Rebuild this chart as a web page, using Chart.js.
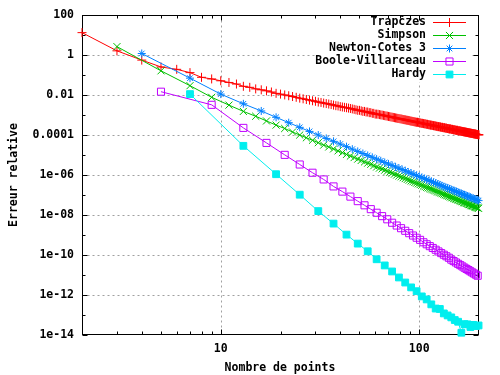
<!DOCTYPE html>
<html>
<head>
<meta charset="utf-8">
<script src="https://cdn.jsdelivr.net/npm/chart.js@4.4.1/dist/chart.umd.min.js"></script>
<style>
  body { margin: 0; background: #fff; }
  canvas { display: block; }
</style>
</head>
<body>
<canvas id="chart" width="500" height="375"></canvas>
<script>
// number of points used for each rule
const trapX = [
  2, 3, 4, 5, 6, 7, 8, 9, 10, 11, 12, 13, 14, 15, 16, 17, 18, 19, 20, 21,
  22, 23, 24, 25, 26, 27, 28, 29, 30, 31, 32, 33, 34, 35, 36, 37, 38, 39, 40, 41,
  42, 43, 44, 45, 46, 47, 48, 49, 50, 51, 52, 53, 54, 55, 56, 57, 58, 59, 60, 61,
  62, 63, 64, 65, 66, 67, 68, 69, 70, 71, 72, 73, 74, 75, 76, 77, 78, 79, 80, 81,
  82, 83, 84, 85, 86, 87, 88, 89, 90, 91, 92, 93, 94, 95, 96, 97, 98, 99, 100, 101,
  102, 103, 104, 105, 106, 107, 108, 109, 110, 111, 112, 113, 114, 115, 116, 117, 118, 119, 120, 121,
  122, 123, 124, 125, 126, 127, 128, 129, 130, 131, 132, 133, 134, 135, 136, 137, 138, 139, 140, 141,
  142, 143, 144, 145, 146, 147, 148, 149, 150, 151, 152, 153, 154, 155, 156, 157, 158, 159, 160, 161,
  162, 163, 164, 165, 166, 167, 168, 169, 170, 171, 172, 173, 174, 175, 176, 177, 178, 179, 180, 181,
  182, 183, 184, 185, 186, 187, 188, 189, 190, 191, 192, 193, 194, 195, 196, 197, 198, 199, 200
];
const trapY = [
  13, 1.6, 0.55, 0.25, 0.19, 0.13, 0.076, 0.063, 0.051, 0.042, 0.035, 0.027, 0.024, 0.020, 0.018, 0.016, 0.014, 0.012, 0.011, 0.010,
  0.0091, 0.0083, 0.0076, 0.0069, 0.0064, 0.0059, 0.0055, 0.0051, 0.0048, 0.0044, 0.0042, 0.0039, 0.0037, 0.0035, 0.0033, 0.0031, 0.0029, 0.0028, 0.0026, 0.0025,
  0.0024, 0.0023, 0.0022, 0.0021, 0.0020, 0.0019, 0.0018, 0.0017, 0.0017, 0.0016, 0.0015, 0.0015, 0.0014, 0.0014, 0.0013, 0.0013, 0.0012, 0.0012, 0.0011, 0.0011,
  1.08e-3, 1.04e-3, 1.01e-3, 9.8e-4, 9.5e-4, 9.2e-4, 8.9e-4, 8.7e-4, 8.4e-4, 8.2e-4, 7.9e-4, 7.7e-4, 7.5e-4, 7.3e-4, 7.1e-4, 6.9e-4, 6.7e-4, 6.6e-4, 6.4e-4, 6.3e-4,
  6.1e-4, 5.9e-4, 5.8e-4, 5.7e-4, 5.5e-4, 5.4e-4, 5.3e-4, 5.2e-4, 5.0e-4, 4.9e-4, 4.8e-4, 4.7e-4, 4.6e-4, 4.5e-4, 4.4e-4, 4.3e-4, 4.3e-4, 4.2e-4, 4.1e-4, 4.0e-4,
  3.9e-4, 3.8e-4, 3.8e-4, 3.7e-4, 3.6e-4, 3.6e-4, 3.5e-4, 3.4e-4, 3.4e-4, 3.3e-4, 3.2e-4, 3.2e-4, 3.1e-4, 3.1e-4, 3.0e-4, 3.0e-4, 2.9e-4, 2.9e-4, 2.8e-4, 2.8e-4,
  2.7e-4, 2.7e-4, 2.6e-4, 2.6e-4, 2.6e-4, 2.5e-4, 2.5e-4, 2.4e-4, 2.4e-4, 2.4e-4, 2.3e-4, 2.3e-4, 2.3e-4, 2.2e-4, 2.2e-4, 2.2e-4, 2.1e-4, 2.1e-4, 2.1e-4, 2.0e-4,
  2.0e-4, 2.0e-4, 2.0e-4, 1.9e-4, 1.9e-4, 1.9e-4, 1.85e-4, 1.8e-4, 1.8e-4, 1.8e-4, 1.75e-4, 1.7e-4, 1.7e-4, 1.7e-4, 1.7e-4, 1.6e-4, 1.6e-4, 1.6e-4, 1.6e-4, 1.56e-4,
  1.54e-4, 1.52e-4, 1.50e-4, 1.49e-4, 1.47e-4, 1.45e-4, 1.43e-4, 1.42e-4, 1.40e-4, 1.38e-4, 1.37e-4, 1.35e-4, 1.34e-4, 1.32e-4, 1.31e-4, 1.29e-4, 1.28e-4, 1.26e-4, 1.25e-4, 1.23e-4,
  1.22e-4, 1.21e-4, 1.19e-4, 1.18e-4, 1.17e-4, 1.16e-4, 1.14e-4, 1.13e-4, 1.12e-4, 1.11e-4, 1.10e-4, 1.09e-4, 1.07e-4, 1.06e-4, 1.05e-4, 1.04e-4, 1.03e-4, 1.02e-4, 1.01e-4
];

const simpsonX = [
  3, 5, 7, 9, 11, 13, 15, 17, 19, 21, 23, 25, 27, 29, 31, 33, 35, 37, 39, 41,
  43, 45, 47, 49, 51, 53, 55, 57, 59, 61, 63, 65, 67, 69, 71, 73, 75, 77, 79, 81,
  83, 85, 87, 89, 91, 93, 95, 97, 99, 101, 103, 105, 107, 109, 111, 113, 115, 117, 119, 121,
  123, 125, 127, 129, 131, 133, 135, 137, 139, 141, 143, 145, 147, 149, 151, 153, 155, 157, 159, 161,
  163, 165, 167, 169, 171, 173, 175, 177, 179, 181, 183, 185, 187, 189, 191, 193, 195, 197, 199
];
const simpsonY = [
  2.6, 0.16, 0.029, 0.0076, 0.0031, 0.0015, 8.6e-4, 5.0e-4, 3.1e-4, 2.1e-4, 1.4e-4, 9.9e-5, 7.2e-5, 5.4e-5, 4.1e-5, 3.1e-5, 2.5e-5, 2.0e-5, 1.6e-5, 1.3e-5,
  1.06e-5, 8.8e-6, 7.4e-6, 6.2e-6, 5.3e-6, 4.5e-6, 3.9e-6, 3.4e-6, 2.9e-6, 2.5e-6, 2.2e-6, 2.0e-6, 1.74e-6, 1.54e-6, 1.37e-6, 1.23e-6, 1.10e-6, 9.9e-7, 8.9e-7, 8.1e-7,
  7.3e-7, 6.6e-7, 6.0e-7, 5.5e-7, 5.0e-7, 4.6e-7, 4.2e-7, 3.9e-7, 3.6e-7, 3.3e-7, 3.05e-7, 2.8e-7, 2.6e-7, 2.4e-7, 2.25e-7, 2.1e-7, 1.95e-7, 1.82e-7, 1.70e-7, 1.59e-7,
  1.49e-7, 1.40e-7, 1.31e-7, 1.23e-7, 1.16e-7, 1.09e-7, 1.02e-7, 9.6e-8, 9.1e-8, 8.6e-8, 8.1e-8, 7.7e-8, 7.3e-8, 6.9e-8, 6.5e-8, 6.2e-8, 5.9e-8, 5.6e-8, 5.3e-8, 5.0e-8,
  4.8e-8, 4.6e-8, 4.3e-8, 4.1e-8, 3.95e-8, 3.8e-8, 3.6e-8, 3.4e-8, 3.3e-8, 3.1e-8, 3.0e-8, 2.9e-8, 2.76e-8, 2.64e-8, 2.53e-8, 2.43e-8, 2.33e-8, 2.24e-8, 2.15e-8
];

const newtonX = [
  4, 7, 10, 13, 16, 19, 22, 25, 28, 31, 34, 37, 40, 43, 46, 49, 52, 55, 58, 61,
  64, 67, 70, 73, 76, 79, 82, 85, 88, 91, 94, 97, 100, 103, 106, 109, 112, 115, 118, 121,
  124, 127, 130, 133, 136, 139, 142, 145, 148, 151, 154, 157, 160, 163, 166, 169, 172, 175, 178, 181,
  184, 187, 190, 193, 196, 199
];
const newtonY = [
  1.18, 0.069, 0.011, 0.0036, 1.58e-3, 7.6e-4, 4.1e-4, 2.4e-4, 1.5e-4, 9.9e-5, 6.7e-5, 4.8e-5, 3.5e-5, 2.6e-5, 1.95e-5, 1.5e-5, 1.18e-5, 9.4e-6, 7.6e-6, 6.2e-6,
  5.1e-6, 4.2e-6, 3.5e-6, 3.0e-6, 2.5e-6, 2.16e-6, 1.86e-6, 1.61e-6, 1.40e-6, 1.22e-6, 1.07e-6, 9.4e-7, 8.3e-7, 7.4e-7, 6.6e-7, 5.9e-7, 5.3e-7, 4.7e-7, 4.3e-7, 3.9e-7,
  3.5e-7, 3.2e-7, 2.9e-7, 2.6e-7, 2.4e-7, 2.2e-7, 2.0e-7, 1.86e-7, 1.71e-7, 1.58e-7, 1.46e-7, 1.35e-7, 1.25e-7, 1.16e-7, 1.08e-7, 1.0e-7, 9.4e-8, 8.7e-8, 8.2e-8, 7.6e-8,
  7.1e-8, 6.7e-8, 6.3e-8, 5.9e-8, 5.5e-8, 5.2e-8
];

const booleX = [
  5, 9, 13, 17, 21, 25, 29, 33, 37, 41, 45, 49, 53, 57, 61, 65, 69, 73, 77, 81,
  85, 89, 93, 97, 101, 105, 109, 113, 117, 121, 125, 129, 133, 137, 141, 145, 149, 153, 157, 161,
  165, 169, 173, 177, 181, 185, 189, 193, 197
];
const booleY = [
  0.0145, 0.0032, 2.25e-4, 4.0e-5, 1.01e-5, 3.33e-6, 1.29e-6, 5.96e-7, 2.67e-7, 1.47e-7, 8.27e-8, 4.91e-8, 3.04e-8, 1.95e-8, 1.29e-8, 8.73e-9, 6.07e-9, 4.09e-9, 2.96e-9, 2.18e-9,
  1.62e-9, 1.23e-9, 9.4e-10, 7.28e-10, 5.70e-10, 4.31e-10, 3.43e-10, 2.76e-10, 2.24e-10, 1.83e-10, 1.50e-10, 1.24e-10, 1.03e-10, 8.61e-11, 7.24e-11, 5.83e-11, 4.95e-11, 4.22e-11, 3.61e-11, 3.10e-11,
  2.67e-11, 2.31e-11, 2.01e-11, 1.75e-11, 1.53e-11, 1.34e-11, 1.18e-11, 1.04e-11, 9.17e-12
];

const hardyX = [
  7, 13, 19, 25, 31, 37, 43, 49, 55, 61, 67, 73, 79, 85, 91, 97, 103, 109, 115, 121,
  127, 133, 139, 145, 151, 157, 163, 169, 175, 181, 187, 193, 199
];
const hardyY = [
  0.011, 2.85e-5, 1.09e-6, 1.03e-7, 1.56e-8, 3.7e-9, 1.04e-9, 3.7e-10, 1.53e-10, 6.1e-11, 3.0e-11, 1.5e-11, 7.5e-12, 4.2e-12, 2.4e-12, 1.55e-12, 8.5e-13, 6.0e-13, 3.4e-13, 2.1e-13,
  2.0e-13, 1.2e-13, 9.5e-14, 7.6e-14, 5.6e-14, 4.6e-14, 1.3e-14, 3.5e-14, 3.4e-14, 2.5e-14, 3.2e-14, 2.8e-14, 3.0e-14
];

const seriesNames = ["Trapčzes", "Simpson", "Newton-Cotes 3", "Boole-Villarceau", "Hardy"];
const seriesColors = ["#ff0000", "#00c000", "#0080ff", "#c000ff", "#00eeee"];

const xTicks = [10, 100];
const xTickLabels = ["10", "100"];
const xMinorTicks = [3, 4, 5, 6, 7, 8, 9, 20, 30, 40, 50, 60, 70, 80, 90];
const yTicks = [100, 1, 1e-2, 1e-4, 1e-6, 1e-8, 1e-10, 1e-12, 1e-14];
const yTickLabels = ["100", "1", "0.01", "0.0001", "1e-06", "1e-08", "1e-10", "1e-12", "1e-14"];
const yMinorTicks = [10, 0.1, 1e-3, 1e-5, 1e-7, 1e-9, 1e-11, 1e-13];

const FONT_FAMILY = "'DejaVu Sans Mono', monospace";
Chart.defaults.font.family = FONT_FAMILY;
Chart.defaults.font.size = 11.5;
Chart.defaults.font.weight = "bold";
Chart.defaults.color = "#000";

// gnuplot-like point types
const markers = [
  { pointStyle: "cross", radius: 4.5, fill: "transparent" },
  { pointStyle: "crossRot", radius: 5, fill: "transparent" },
  { pointStyle: "star", radius: 4, fill: "transparent" },
  { pointStyle: "rect", radius: 5, fill: "rgba(0,0,0,0)" },
  { pointStyle: "rect", radius: 4.8, fill: "#00eeee" },
];

const allX = [trapX, simpsonX, newtonX, booleX, hardyX];
const allY = [trapY, simpsonY, newtonY, booleY, hardyY];

const datasets = seriesNames.map((name, i) => ({
  label: name,
  data: allX[i].map((x, j) => ({ x: x, y: allY[i][j] })),
  borderColor: seriesColors[i],
  backgroundColor: seriesColors[i],
  borderWidth: 1,
  showLine: true,
  tension: 0,
  pointStyle: markers[i].pointStyle,
  pointRadius: markers[i].radius,
  pointHoverRadius: markers[i].radius,
  pointBorderWidth: 1,
  pointBorderColor: seriesColors[i],
  pointBackgroundColor: markers[i].fill,
  clip: false,
  order: 4 - i,
}));

const gnuplotFrame = {
  id: "gnuplotFrame",
  beforeDatasetsDraw(chart) {
    const { ctx, chartArea: a, scales } = chart;
    const x = scales.x, y = scales.y;
    const L = Math.round(a.left) + 0.5, R = Math.round(a.right) - 0.5;
    const T = Math.round(a.top) + 0.5, B = Math.round(a.bottom) - 0.5;
    ctx.save();

    // dashed grid
    ctx.strokeStyle = "#a0a0a0";
    ctx.lineWidth = 1;
    ctx.setLineDash([2, 3]);
    ctx.beginPath();
    xTicks.forEach((v) => {
      const px = Math.round(x.getPixelForValue(v)) + 0.5;
      ctx.moveTo(px, T);
      ctx.lineTo(px, B);
    });
    yTicks.forEach((v) => {
      const py = Math.round(y.getPixelForValue(v)) + 0.5;
      if (py > T + 1 && py < B - 1) {
        ctx.moveTo(L, py);
        ctx.lineTo(R, py);
      }
    });
    ctx.stroke();
    ctx.setLineDash([]);

    // opaque key box
    ctx.fillStyle = "#fff";
    ctx.fillRect(315, T + 1, 156, 66);

    // tic marks on all four sides, pointing inwards
    ctx.strokeStyle = "#000";
    ctx.beginPath();
    const xt = (list, len) => list.forEach((v) => {
      const px = Math.round(x.getPixelForValue(v)) + 0.5;
      ctx.moveTo(px, B); ctx.lineTo(px, B - len);
      ctx.moveTo(px, T); ctx.lineTo(px, T + len);
    });
    const yt = (list, len) => list.forEach((v) => {
      const py = Math.round(y.getPixelForValue(v)) + 0.5;
      ctx.moveTo(L, py); ctx.lineTo(L + len, py);
      ctx.moveTo(R, py); ctx.lineTo(R - len, py);
    });
    xt(xTicks, 5); xt(xMinorTicks, 3);
    yt(yTicks, 5); yt(yMinorTicks, 3);
    ctx.stroke();

    // border
    ctx.strokeRect(L, T, R - L, B - T);
    ctx.restore();
  },
  afterDatasetsDraw(chart) {
    const { ctx } = chart;
    ctx.save();
    ctx.font = "bold 11.5px " + FONT_FAMILY;
    ctx.fillStyle = "#000";
    ctx.textBaseline = "middle";

    // key
    seriesNames.forEach((name, i) => {
      const ry = 22 + i * 13.1;
      ctx.textAlign = "right";
      ctx.fillStyle = "#000";
      ctx.fillText(name, 426, ry);
      ctx.strokeStyle = seriesColors[i];
      ctx.lineWidth = 1;
      ctx.beginPath();
      ctx.moveTo(433, Math.round(ry) + 0.5);
      ctx.lineTo(466, Math.round(ry) + 0.5);
      ctx.stroke();
      ctx.fillStyle = markers[i].fill;
      Chart.helpers.drawPoint(ctx, {
        pointStyle: markers[i].pointStyle,
        radius: markers[i].radius,
        rotation: 0,
        borderWidth: 1,
      }, 449.5, Math.round(ry) + 0.5);
    });

    // axis titles
    ctx.fillStyle = "#000";
    ctx.textAlign = "center";
    ctx.fillText("Nombre de points", 280, 368);
    ctx.translate(14, 175);
    ctx.rotate(-Math.PI / 2);
    ctx.fillText("Erreur relative", 0, 0);
    ctx.restore();
  },
};

new Chart(document.getElementById("chart"), {
  type: "scatter",
  data: { datasets: datasets },
  options: {
    responsive: false,
    animation: false,
    devicePixelRatio: 1,
    layout: { padding: { left: 0, top: 14, right: 21, bottom: 0 } },
    plugins: {
      legend: { display: false },
      tooltip: { enabled: false },
    },
    scales: {
      x: {
        type: "logarithmic",
        position: "bottom",
        min: 2,
        max: 200,
        grid: { display: false, drawTicks: false },
        border: { display: false },
        afterFit: (scale) => { scale.height = 40; },
        afterBuildTicks: (scale) => {
          scale.ticks = xTicks.map((v) => ({ value: v }));
        },
        ticks: {
          autoSkip: false,
          maxRotation: 0,
          padding: 7,
          callback: (v) => xTickLabels[xTicks.indexOf(v)],
        },
      },
      y: {
        type: "logarithmic",
        position: "left",
        min: 1e-14,
        max: 100,
        grid: { display: false, drawTicks: false },
        border: { display: false },
        afterFit: (scale) => { scale.width = 82; },
        afterBuildTicks: (scale) => {
          scale.ticks = yTicks.map((v) => ({ value: v }));
        },
        ticks: {
          autoSkip: false,
          padding: 8,
          callback: (v) => yTickLabels[yTicks.indexOf(v)],
        },
      },
    },
  },
  plugins: [gnuplotFrame],
});
</script>
</body>
</html>
